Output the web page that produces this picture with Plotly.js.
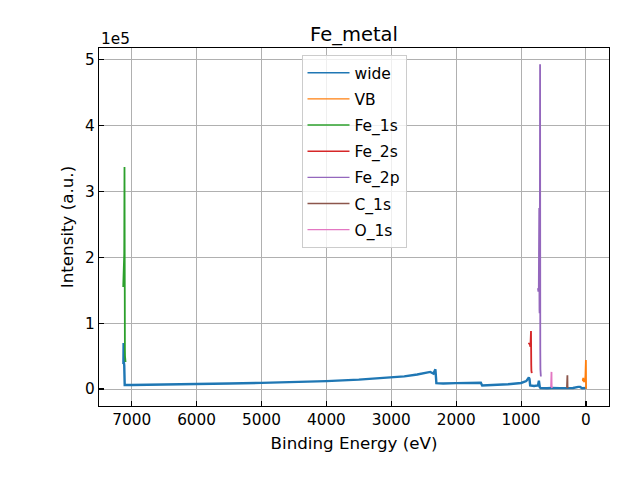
<!DOCTYPE html>
<html>
<head>
<meta charset="utf-8">
<script src="https://cdn.plot.ly/plotly-3.0.1.min.js"></script>
<style>
  html, body { margin: 0; padding: 0; background: white; }
  #myDiv { width: 640px; height: 480px; }
</style>
</head>
<body>
<div id="myDiv"></div>
<script>
// binding energy (eV) and counts
const wideBE = [7128, 7125, 7123, 7120, 7115, 7113, 7110, 7108, 7000, 6500, 6000, 5500, 5000, 4500,
    4000, 3500, 3000, 2800, 2600, 2470, 2400, 2350, 2320, 2305, 2200, 2000, 1800, 1650, 1620, 1600,
    1400, 1200, 1000, 920, 880, 870, 860, 800, 740, 725, 712, 700, 600, 540, 530, 400, 290, 200,
    120, 90, 60, 30, 5, 0];
const wideI = [38000, 70000, 45000, 40000, 36000, 30000, 9000, 6000, 6200, 6600, 7000, 8300, 9300, 10400,
    12000, 14200, 17300, 19200, 22000, 25000, 26000, 23500, 30000, 9000, 8400, 8900, 9400, 9900, 9600, 5300,
    6200, 7300, 9200, 12000, 17500, 15000, 5500, 4600, 5500, 12500, 3000, 1300, 1200, 2000, 1500, 1300, 1800, 1600,
    3300, 3200, 1200, 1000, 1500, 200];

const vbBE = [-2, -1, 0, 1, 2, 3, 5, 8, 12, 16, 20, 25, 30, 35, 40, 43, 45, 47, 50];
const vbI = [500, 6000, 22000, 44000, 41000, 36000, 27000, 20000, 16000, 13000, 12000, 11000, 11500, 12500, 14000, 17000, 12000, 16000, 15000];

const fe1sBE = [7095, 7097, 7099, 7101, 7103, 7105, 7107, 7109, 7110, 7111, 7112, 7113, 7114, 7115,
    7117, 7119, 7121, 7123, 7125, 7127, 7129, 7131];
const fe1sI = [41000, 42000, 43000, 45000, 50000, 62000, 95000, 190000, 285000, 337000, 320000, 270000, 230000, 205000,
    192000, 185000, 178000, 170000, 165000, 160000, 157000, 155000];

const fe2sBE = [835, 838, 841, 843, 845, 847, 849, 851, 853, 856, 860, 864, 868, 872, 876, 880];
const fe2sI = [24000, 25000, 28000, 36000, 62000, 88000, 80000, 70000, 66000, 64000, 66000, 68000, 67000, 69000, 70000, 68000];

const fe2pBE = [695, 698, 700, 702, 704, 705, 706, 707, 708, 709, 710, 712, 714, 716, 718, 719,
    720, 721, 722, 724, 727, 730, 733, 736, 740];
const fe2pI = [19000, 21000, 24000, 30000, 60000, 130000, 300000, 493000, 380000, 250000, 180000, 130000, 115000, 120000, 170000, 240000,
    275000, 230000, 180000, 155000, 150000, 152000, 148000, 150000, 153000];

const c1sBE = [280, 282, 284, 285, 286, 287, 288, 290, 293, 296, 300];
const c1sI = [1500, 1800, 4000, 12000, 21000, 15000, 6000, 3000, 2500, 2300, 2200];

const o1sBE = [522, 525, 528, 530, 531, 532, 533, 535, 538, 542];
const o1sI = [1500, 1700, 3000, 12000, 26000, 20000, 9000, 4000, 3000, 2800];

const names = ["wide", "VB", "Fe_1s", "Fe_2s", "Fe_2p", "C_1s", "O_1s"];
const xs = [wideBE, vbBE, fe1sBE, fe2sBE, fe2pBE, c1sBE, o1sBE];
const ys = [wideI, vbI, fe1sI, fe2sI, fe2pI, c1sI, o1sI];
const colors = ["#1f77b4", "#ff7f0e", "#2ca02c", "#d62728", "#9467bd", "#8c564b", "#e377c2"];
const widths = [2.4, 1.8, 1.8, 1.8, 1.8, 1.8, 1.8];

const xTicks = [0, 1000, 2000, 3000, 4000, 5000, 6000, 7000];
const yTicks = [0, 1e5, 2e5, 3e5, 4e5, 5e5];
const yTickText = ["0", "1", "2", "3", "4", "5"];

// spectra drawn without legend entries
const data = names.map((n, i) => ({
    type: "scatter",
    mode: "lines",
    name: n,
    showlegend: false,
    x: xs[i],
    y: ys[i],
    line: { color: colors[i], width: widths[i] },
}));

// legend entries with thin sample lines (like matplotlib's legend handles)
names.forEach((n, i) => {
    data.push({
        type: "scatter",
        mode: "lines",
        name: n,
        legendgroup: n,
        x: [null],
        y: [null],
        line: { color: colors[i], width: 1.4 },
    });
});

const axisCommon = {
    showline: true,
    mirror: true,
    linecolor: "black",
    linewidth: 1.1,
    ticks: "inside",
    ticklen: 5,
    tickwidth: 1.1,
    tickcolor: "black",
    showgrid: true,
    gridcolor: "#b0b0b0",
    gridwidth: 1,
    zeroline: false,
    tickfont: { size: 15.3, color: "black" },
};

const layout = {
    width: 640,
    height: 480,
    margin: { l: 99, r: 31, t: 48, b: 74 },
    paper_bgcolor: "white",
    plot_bgcolor: "white",
    font: { family: "DejaVu Sans", color: "black" },
    showlegend: true,
    title: {
        text: "Fe_metal",
        font: { size: 19.5 },
        x: 0.5,
        xref: "paper",
        y: 1 - 34 / 480,
        yref: "container",
        yanchor: "middle",
    },
    xaxis: Object.assign({}, axisCommon, {
        range: [7504, -355],
        tickvals: xTicks,
        title: { text: "Binding Energy (eV)", font: { size: 16.7 }, standoff: 8 },
    }),
    yaxis: Object.assign({}, axisCommon, {
        range: [-25800, 517800],
        tickvals: yTicks,
        ticktext: yTickText,
        title: { text: "Intensity (a.u.)", font: { size: 16.7 }, standoff: 7 },
    }),
    legend: {
        x: 0.5,
        xanchor: "center",
        y: 0.98,
        yanchor: "top",
        bgcolor: "rgba(255,255,255,0.8)",
        bordercolor: "#cccccc",
        borderwidth: 1,
        font: { size: 15.5 },
        traceorder: "grouped",
        tracegroupgap: 3,
        itemwidth: 42,
    },
    annotations: [{
        text: "1e5",
        xref: "paper",
        yref: "paper",
        x: 0,
        y: 1,
        xanchor: "left",
        yanchor: "bottom",
        showarrow: false,
        font: { size: 15.3 },
        yshift: -2,
    }],
};

Plotly.newPlot("myDiv", data, layout, { displayModeBar: false, staticPlot: true });
</script>
</body>
</html>
